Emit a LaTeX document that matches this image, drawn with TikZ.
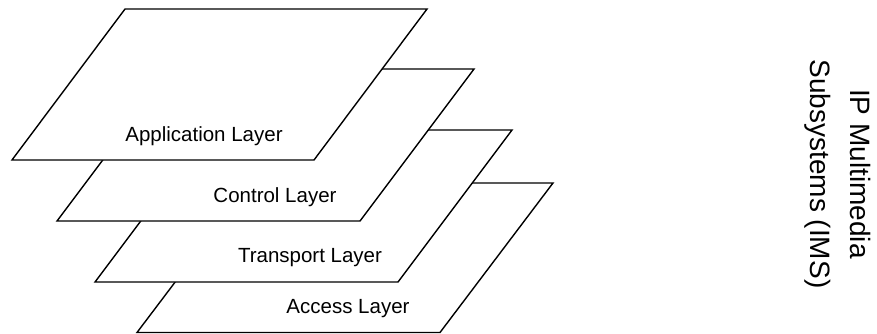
\documentclass[tikz,border=0pt]{standalone}
\usepackage{fontspec}
\setmainfont{Liberation Sans}
\begin{document}
\begin{tikzpicture}[x=1pt,y=-1pt,
  layer/.style={draw=black,fill=white,line width=1.4pt,line join=miter},
  lbl/.style={anchor=base,inner sep=0pt,font=\fontsize{20.5}{24}\selectfont},
  side/.style={rotate=-90,align=center,inner sep=0pt,font=\fontsize{28}{40}\selectfont}]
\useasboundingbox (0,0) rectangle (877,334);
% Access layer
\coordinate (acBL) at (137,332.5);
\coordinate (acBR) at (440,332.5);
\coordinate (acTR) at (553,183);
\coordinate (acTL) at (250,183);
\path[layer] (acBL) -- (acBR) -- (acTR) -- (acTL) -- cycle;
\node[lbl] (ac) at (348,313) {Access Layer};
% Transport layer
\coordinate (trBL) at (95,282);
\coordinate (trBR) at (398,282);
\coordinate (trTR) at (512,130);
\coordinate (trTL) at (209,130);
\path[layer] (trBL) -- (trBR) -- (trTR) -- (trTL) -- cycle;
\node[lbl] (tr) at (310,262) {Transport Layer};
% Control layer
\coordinate (coBL) at (57,221);
\coordinate (coBR) at (360,221);
\coordinate (coTR) at (474,69);
\coordinate (coTL) at (171,69);
\path[layer] (coBL) -- (coBR) -- (coTR) -- (coTL) -- cycle;
\node[lbl] (co) at (275,202) {Control Layer};
% Application layer
\coordinate (apBL) at (12,160);
\coordinate (apBR) at (314,160);
\coordinate (apTR) at (427,9);
\coordinate (apTL) at (125,9);
\path[layer] (apBL) -- (apBR) -- (apTR) -- (apTL) -- cycle;
\node[lbl] (ap) at (204,141) {Application Layer};
% Side label
\node[side] (ims) at (838,174) {IP Multimedia\\Subsystems (IMS)};
\end{tikzpicture}
\end{document}
